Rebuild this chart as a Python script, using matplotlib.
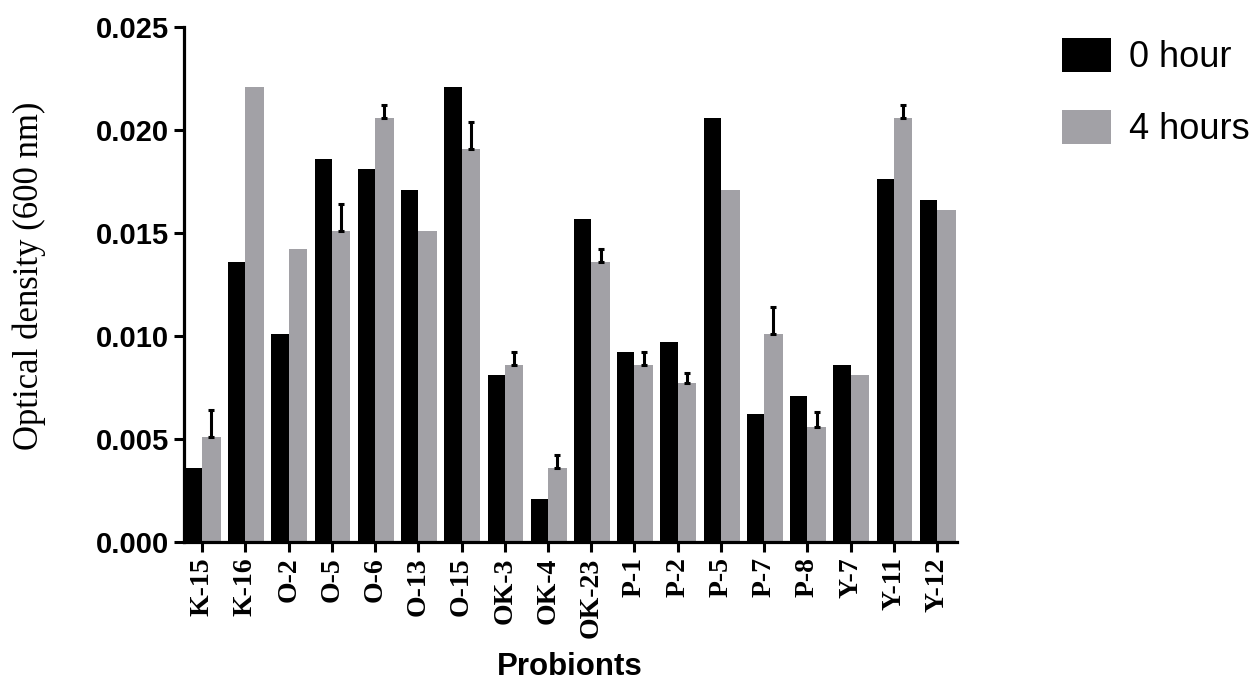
import matplotlib
matplotlib.use('Agg')
import matplotlib.pyplot as plt
import numpy as np

# data
probionts = ['K-15', 'K-16', 'O-2', 'O-5', 'O-6', 'O-13', 'O-15', 'OK-3', 'OK-4',
             'OK-23', 'P-1', 'P-2', 'P-5', 'P-7', 'P-8', 'Y-7', 'Y-11', 'Y-12']
od_0h = [0.0036, 0.0136, 0.0101, 0.0186, 0.0181, 0.0171, 0.0221, 0.0081, 0.0021,
         0.0157, 0.0092, 0.0097, 0.0206, 0.0062, 0.0071, 0.0086, 0.0176, 0.0166]
od_4h = [0.0051, 0.0221, 0.0142, 0.0151, 0.0206, 0.0151, 0.0191, 0.0086, 0.0036,
         0.0136, 0.0086, 0.0077, 0.0171, 0.0101, 0.0056, 0.0081, 0.0206, 0.0161]
err_4h = [0.0013, 0.0, 0.0, 0.0013, 0.0006, 0.0, 0.0013, 0.0006, 0.0006,
          0.0006, 0.0006, 0.0005, 0.0, 0.0013, 0.0007, 0.0, 0.0006, 0.0]

black = '#000000'
grey = '#a2a1a6'

fig = plt.figure(figsize=(12.58, 6.84), dpi=100)
ax = fig.add_axes([0.1463, 0.2076, 0.6144, 0.7529])

x = np.arange(len(probionts))
w = 0.4
ax.bar(x - w / 2, od_0h, width=w, color=black, label='0 hour')
ax.bar(x + 0.215, od_4h, width=0.43, color=grey, label='4 hours')

# only bars that have a visible error get a whisker
err = np.array(err_4h)
od4 = np.array(od_4h)
has_err = err > 0
ax.errorbar(x[has_err] + 0.215, od4[has_err], yerr=[np.zeros(has_err.sum()), err[has_err]],
            fmt='none', ecolor=black, elinewidth=2.2, capsize=2.5, capthick=2.2)

ax.set_xlim(-0.42, 17.46)
ax.set_ylim(0, 0.025)
ax.set_yticks([0.0, 0.005, 0.010, 0.015, 0.020, 0.025])
ax.set_yticklabels(['0.000', '0.005', '0.010', '0.015', '0.020', '0.025'],
                   fontfamily='Liberation Sans', fontweight='bold', fontsize=21)
ax.set_xticks(x)
ax.set_xticklabels(probionts, rotation=90, fontfamily='Liberation Serif',
                   fontweight='bold', fontsize=20)

for s in ['top', 'right']:
    ax.spines[s].set_visible(False)
for s in ['left', 'bottom']:
    ax.spines[s].set_linewidth(2.3)
ax.tick_params(axis='both', width=2.2, length=7, pad=4)

ax.set_ylabel('Optical density (600 nm)', fontfamily='Liberation Serif', fontsize=25)
ax.yaxis.set_label_coords(-0.179, 0.517)
ax.set_xlabel('Probionts', fontfamily='Liberation Sans', fontweight='bold', fontsize=22.5)
ax.xaxis.set_label_coords(0.499, -0.213)

ax.legend(loc='upper left', bbox_to_anchor=(0.8444, 0.945), bbox_transform=fig.transFigure,
          frameon=False, prop={'family': 'Liberation Sans', 'size': 26},
          handlelength=1.35, handleheight=1.1, handletextpad=0.5, labelspacing=0.95,
          borderaxespad=0, borderpad=0)

fig.savefig('out.png', dpi=100)
